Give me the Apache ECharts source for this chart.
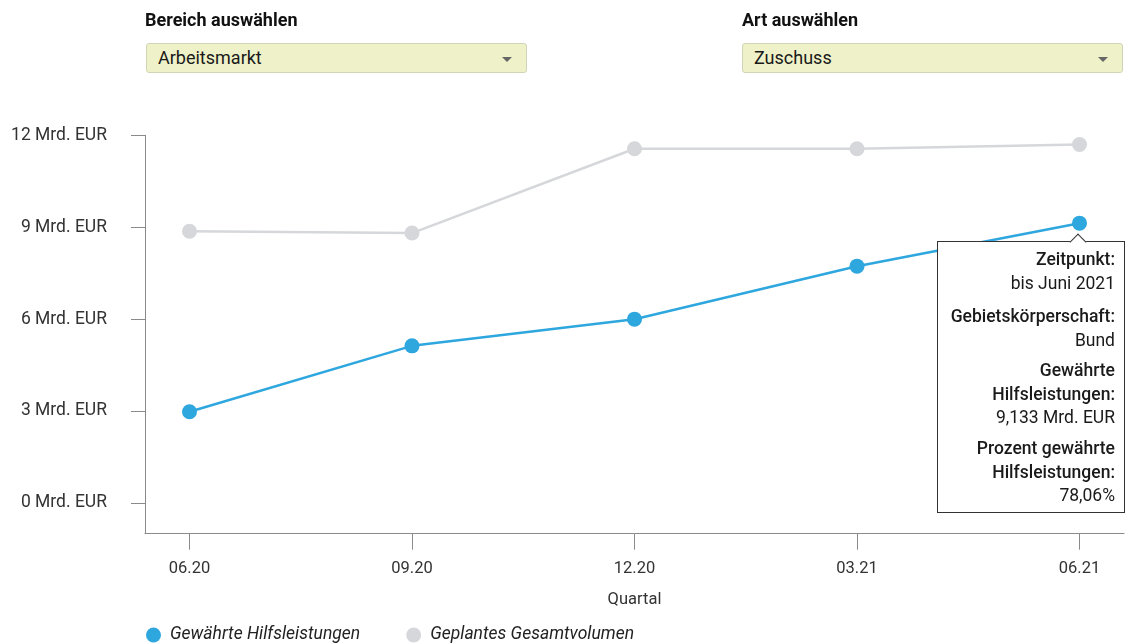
<!DOCTYPE html>
<html>
<head>
<meta charset="utf-8">
<script src="https://cdn.jsdelivr.net/npm/echarts@6/dist/echarts.min.js"></script>
<style>
  html, body { margin:0; padding:0; background:#fff; }
  body { width:1131px; height:644px; position:relative; overflow:hidden; font-family: Roboto, "Noto Sans", sans-serif; color:#1a1a1a; }
  #chart { position:absolute; left:0; top:0; width:1131px; height:644px; }
  .ctl-label { position:absolute; top:9px; font-weight:bold; font-size:18px; line-height:22px; color:#111; }
  .ctl-box { position:absolute; top:43px; width:381px; height:30px; box-sizing:border-box; background:#eff2c8; border:1px solid #d2d4b8; border-radius:3px; font-size:18px; line-height:28px; padding-left:11px; color:#1a1a1a; }
  .ctl-box .arr { position:absolute; right:14px; top:13px; width:0; height:0; border-left:5px solid transparent; border-right:5px solid transparent; border-top:5px solid #666; }
</style>
</head>
<body>
<div id="chart"></div>
<div class="ctl-label" style="left:145px;">Bereich auswählen</div>
<div class="ctl-box" style="left:146px;">Arbeitsmarkt<span class="arr"></span></div>
<div class="ctl-label" style="left:742px;">Art auswählen</div>
<div class="ctl-box" style="left:742px;">Zuschuss<span class="arr"></span></div>
<script>
var categories = ['06.20', '09.20', '12.20', '03.21', '06.21'];
var periods = ['bis Juni 2020', 'bis September 2020', 'bis Dezember 2020', 'bis März 2021', 'bis Juni 2021'];
var granted = [2.98, 5.13, 6.0, 7.73, 9.133];
var planned = [8.87, 8.81, 11.56, 11.56, 11.70];
var yTicks = [0, 3, 6, 9, 12];
var xTicks = [0, 1, 2, 3, 4];
var authority = 'Bund';

var FONT = 'Roboto';
var chart = echarts.init(document.getElementById('chart'));

function fmtNum(v, d) { return v.toFixed(d).replace('.', ','); }

var option = {
  animation: false,
  grid: { left: 145, right: 7, top: 135.3, bottom: 110.3, containLabel: false },
  xAxis: {
    type: 'value', min: -0.2, max: 4.2,
    name: 'Quartal', nameLocation: 'middle', nameGap: 58,
    nameTextStyle: { fontFamily: FONT, fontSize: 16.5, color: '#333' },
    axisLine: { show: true, onZero: false, lineStyle: { color: '#8a8a8a', width: 1 } },
    axisTick: { show: true, length: 16, customValues: xTicks, lineStyle: { color: '#8a8a8a' } },
    axisLabel: { customValues: xTicks, margin: 27, fontFamily: FONT, fontSize: 16.5, color: '#333',
      formatter: function (v) { return categories[Math.round(v)] || ''; } },
    splitLine: { show: false }
  },
  yAxis: {
    type: 'value', min: -1, max: 12,
    axisLine: { show: true, onZero: false, lineStyle: { color: '#8a8a8a', width: 1 } },
    axisTick: { show: true, length: 14, customValues: yTicks, lineStyle: { color: '#8a8a8a' } },
    axisLabel: { customValues: yTicks, margin: 38, fontFamily: FONT, fontSize: 17.5, color: '#333',
      formatter: function (v) { return v + ' Mrd. EUR'; } },
    splitLine: { show: false }
  },
  legend: {
    left: 146, top: 626, itemWidth: 15, itemHeight: 15, itemGap: 46, icon: 'circle', padding: 0,
    textStyle: { fontFamily: FONT, fontSize: 17.5, lineHeight: 16, fontStyle: 'italic', color: '#222', padding: [0, 0, 0, 4] },
    data: ['Gewährte Hilfsleistungen', 'Geplantes Gesamtvolumen']
  },
  tooltip: {
    trigger: 'item', triggerOn: 'none', alwaysShowContent: true, transitionDuration: 0,
    backgroundColor: '#fff', borderColor: '#333', borderWidth: 1, padding: 0,
    extraCssText: 'box-shadow:none;border-radius:0;overflow:visible;',
    position: function () { return [937, 241]; },
    formatter: function (p) {
      var i = p.dataIndex;
      var pct = granted[i] / planned[i] * 100;
      var b = 'font-weight:500;';
      return '<div style="position:relative;width:186px;height:270px;box-sizing:border-box;padding:6px 9px 0 0;text-align:right;font-family:Roboto;font-size:17.5px;line-height:23.5px;color:#1a1a1a;">' +
        '<div style="position:absolute;left:134px;top:-6px;width:11px;height:11px;background:#fff;border-left:1px solid #333;border-top:1px solid #333;transform:rotate(45deg);"></div>' +
        '<div style="' + b + '">Zeitpunkt:</div><div>' + periods[i] + '</div>' +
        '<div style="' + b + 'margin-top:10px;">Gebietskörperschaft:</div><div>' + authority + '</div>' +
        '<div style="' + b + 'margin-top:7px;">Gewährte<br>Hilfsleistungen:</div><div>' + fmtNum(granted[i], 3) + ' Mrd. EUR</div>' +
        '<div style="' + b + 'margin-top:7.5px;">Prozent gewährte<br>Hilfsleistungen:</div><div>' + fmtNum(pct, 2) + '%</div>' +
        '</div>';
    }
  },
  series: [
    {
      name: 'Gewährte Hilfsleistungen', type: 'line', z: 3,
      data: granted.map(function (v, i) { return [xTicks[i], v]; }),
      symbol: 'circle', symbolSize: 15,
      itemStyle: { color: '#2ea6de' },
      lineStyle: { color: '#2ea6de', width: 2.5 }
    },
    {
      name: 'Geplantes Gesamtvolumen', type: 'line', z: 2,
      data: planned.map(function (v, i) { return [xTicks[i], v]; }),
      symbol: 'circle', symbolSize: 15,
      itemStyle: { color: '#d5d7da' },
      lineStyle: { color: '#d5d7da', width: 2.5 }
    }
  ]
};
chart.setOption(option);
chart.dispatchAction({ type: 'showTip', seriesIndex: 0, dataIndex: 4 });
setTimeout(function () { chart.dispatchAction({ type: 'showTip', seriesIndex: 0, dataIndex: 4 }); }, 50);
</script>
</body>
</html>
